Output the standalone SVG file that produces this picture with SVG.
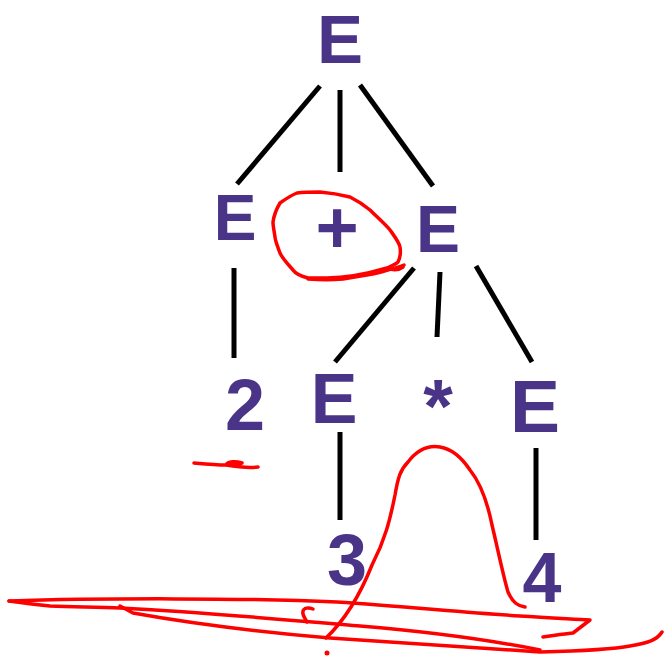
<svg xmlns="http://www.w3.org/2000/svg" width="664" height="657" viewBox="0 0 664 657">
<style>
.t{font-family:"Liberation Sans",Arial,sans-serif;font-weight:700;fill:#4a3487;text-anchor:middle}
.e{stroke:#000;stroke-width:5;fill:none}
.r{stroke:#ff0000;stroke-width:3.5;fill:none;stroke-linecap:round;stroke-linejoin:round}
</style>
<rect width="664" height="657" fill="#fff"/>
<g id="connectors">
<line class="e" x1="320" y1="86" x2="237" y2="184"/>
<line class="e" x1="340" y1="90" x2="340" y2="172"/>
<line class="e" x1="360" y1="85" x2="433" y2="186"/>
<line class="e" x1="234" y1="268" x2="234" y2="358"/>
<line class="e" x1="414" y1="268" x2="335" y2="362"/>
<line class="e" x1="440" y1="272" x2="437" y2="337"/>
<line class="e" x1="476" y1="266" x2="532" y2="362"/>
<line class="e" x1="340" y1="432" x2="340" y2="520"/>
<line class="e" x1="536" y1="448" x2="536" y2="540"/>
</g>
<g id="n-root"><text class="t" x="340" y="63" font-size="69">E</text></g>
<g id="n-e-left"><text class="t" x="235" y="240" font-size="64">E</text></g>
<g id="n-plus"><text class="t" x="337" y="253" font-size="74">+</text></g>
<g id="n-e-right"><text class="t" x="438" y="252" font-size="66">E</text></g>
<g id="n-2"><text class="t" x="245" y="430" font-size="72">2</text></g>
<g id="n-e-mid"><text class="t" x="334" y="423" font-size="70">E</text></g>
<g id="n-star"><text class="t" x="438" y="432" font-size="76" font-weight="400">*</text></g>
<g id="n-e-r3"><text class="t" x="535" y="432" font-size="75">E</text></g>
<g id="n-3"><text class="t" x="347" y="585" font-size="72">3</text></g>
<g id="n-4"><text class="t" x="542" y="602" font-size="70">4</text></g>
<g id="annotations">
<path class="r" d="M403,267 C399,270 394,271 387,268 M387,268 C370,273 345,278 327,278 C318,278 310,278 308,278 C300,276 295,273 293,270 C287,263 282,258 280,253 C277,245 275,240 275,237 C274,230 273,226 273,222 C274,215 277,208 280,203 C287,198 292,195 297,193 C305,192 312,192 320,192 C332,193 342,195 350,197 C358,201 364,205 370,210 C378,218 385,224 390,230 C395,237 399,242 400,247 C401,253 400,258 398,262 C396,264 392,266 387,268"/>
<path class="r" d="M308,279 C320,280 333,280 343,279 C355,277 368,275 377,273 C388,270 397,268 404,265"/>
<path class="r" d="M194,463 C205,464 215,465 226,465 C228,461 236,461 242,463 C236,465 230,465 226,465 C238,467 250,468 258,467"/>
<path class="r" d="M326,638 C345,620 360,595 372,565 C385,540 390,520 395,495 C398,478 400,470 408,462 C418,449 428,445 440,447 C452,449 462,458 470,470 C482,485 488,505 492,525 C498,550 503,575 508,592 C513,603 518,606 525,607"/>
<path class="r" d="M9,601 C100,598 250,598 337,602 C400,606 460,612 520,616 C550,618 575,619 590,620 L573,633 C565,634 555,635 543,637"/>
<path class="r" d="M9,601 C30,604 40,605 50,606 C80,607 100,607 120,608 C200,612 290,620 360,626 C420,631 480,638 540,650"/>
<path class="r" d="M120,606 L133,613 C200,625 260,632 330,638 C390,642 450,646 540,652 C580,651 610,650 630,646 C648,643 657,640 662,632"/>
<path class="r" d="M313,609 C308,607 304,608 303,611 C302,614 304,617 307,622"/>
<circle cx="327" cy="653" r="2.5" fill="#ff0000"/>
</g>
</svg>
